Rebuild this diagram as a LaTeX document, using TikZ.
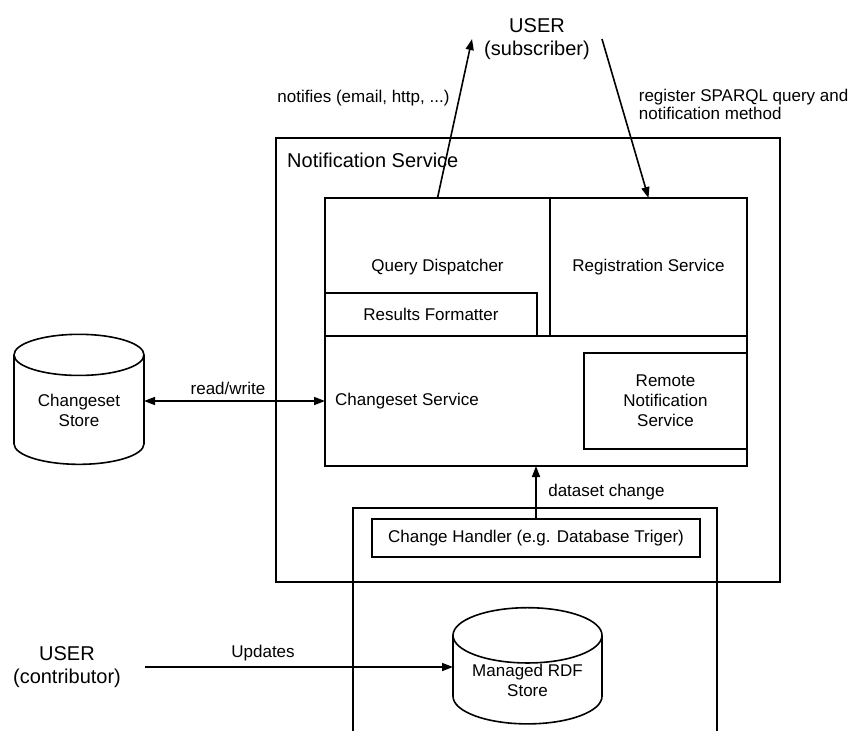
\documentclass[tikz,border=0pt]{standalone}
\usepackage{fontspec}
\setmainfont{Liberation Sans}
\usetikzlibrary{arrows.meta,shapes.geometric}
\newcommand{\lblfont}{\fontsize{17}{20}\selectfont}
\newcommand{\bigfont}{\fontsize{20}{23}\selectfont}

\begin{document}
\begin{tikzpicture}[
    x=1pt, y=-1pt,
    box/.style={draw, line width=1.6pt, inner sep=0pt, outer sep=0pt, anchor=north west, align=center, font=\lblfont},
    store/.style={draw, line width=1.6pt, cylinder, shape border rotate=90, aspect=0.5, inner sep=0pt, outer sep=0pt, align=center, font=\lblfont},
    user/.style={align=center, font=\bigfont, inner ysep=0pt, inner xsep=12pt},
    lbl/.style={font=\lblfont, inner sep=0pt},
    arr/.style={-{Triangle[length=11pt, width=8pt]}, line width=1.6pt},
    dbl/.style={{Triangle[length=11pt, width=8pt]}-{Triangle[length=11pt, width=8pt]}, line width=1.6pt}
  ]
  \useasboundingbox (0,0) rectangle (850,731);

  % notification service and its parts
  \node[box, minimum width=504pt, minimum height=444pt] (ns) at (276,138) {};
  \node[lbl, font=\bigfont, anchor=west] at ([xshift=11pt, yshift=-22pt]ns.north west) {Notification Service};
  \node[box, minimum width=225pt, minimum height=138pt] (qd) at (325,198) {Query Dispatcher};
  \node[box, minimum width=212pt, minimum height=43pt] (rf) at (325,293) {Results Formatter};
  \node[box, minimum width=197pt, minimum height=138pt] (reg) at (550,198) {Registration Service};
  \node[box, minimum width=422pt, minimum height=130pt] (cs) at (325,336) {};
  \node[lbl, anchor=west] at ([xshift=10pt]cs.west) {Changeset Service};
  \node[box, minimum width=163pt, minimum height=96pt] (rns) at (584,353) {Remote\\Notification\\Service};

  % managed store side (open at the bottom)
  \draw[line width=1.6pt] (353,731) -- (353,508) -- (717,508) -- (717,731);
  \node[box, minimum width=328pt, minimum height=38pt] (ch) at (372,519) {Change Handler (e.g. Database Triger)};
  \node[store, minimum width=149pt, minimum height=116pt] (rdf) at (527.5,680) {Managed RDF\\Store};

  \node[store, minimum width=130pt, minimum height=130pt] (cstore) at (79,410) {Changeset\\Store};

  % users
  \node[user] (sub) at (537,39) {USER\\(subscriber)};
  \node[user, inner xsep=24pt] (contrib) at (67,667) {USER\\(contributor)};

  \draw[arr] (qd.north) -- node[lbl, pos=0.63, left=9pt] {notifies (email, http, ...)} (sub.west);
  \draw[arr] (sub.east) -- node[lbl, pos=0.41, right=17pt, align=left, font=\fontsize{17}{17.5}\selectfont] {register SPARQL query and\\notification method} (reg.north);
  \draw[dbl] (cs.west -| cstore.east) -- node[lbl, pos=0.464, above=5.5pt] {read/write} (cs.west);
  \draw[arr] (ch.north) -- node[lbl, right=11.5pt] {dataset change} (cs.south);
  \draw[arr] (contrib.east) -- node[lbl, pos=0.383, above=5.4pt] {Updates} (contrib.east -| rdf.west);
\end{tikzpicture}
\end{document}
